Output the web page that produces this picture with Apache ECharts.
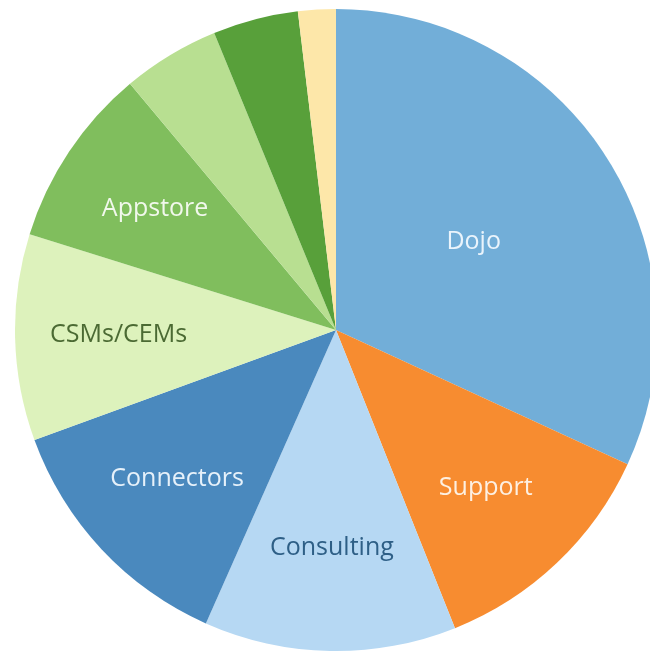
<!DOCTYPE html>
<html>
<head>
<meta charset="utf-8">
<script src="https://cdn.jsdelivr.net/npm/echarts@6/dist/echarts.min.js"></script>
<style>html,body{margin:0;padding:0;background:#fff;}#c{width:650px;height:655px;}</style>
</head>
<body>
<div id="c"></div>
<script>
var categories = ['Dojo', 'Support', 'Consulting', 'Connectors', 'CSMs/CEMs', 'Appstore', 'Other A', 'Other B', 'Other C'];
var values = [31.9, 12.1, 12.7, 12.8, 10.4, 9.1, 4.9, 4.3, 1.9];
var showLabel = [true, true, true, true, true, true, false, false, false];
var colors = ['#72aed8', '#f78c30', '#b6d8f3', '#4a89be', '#ddf2bc', '#80be5d', '#b8df91', '#58a03a', '#fde7a9'];
var labelColors = ['#eaf4fc', '#fdf0e2', '#2e5f86', '#e6f1fa', '#4b6a33', '#f1f8ec', '#fff', '#fff', '#fff'];

var chart = echarts.init(document.getElementById('c'));
var center = [336, 330];
var R = 321;

var mainData = categories.map(function (n, i) {
  return {
    name: n, value: values[i],
    itemStyle: { color: colors[i] },
    label: { show: i === 0, color: labelColors[i] }
  };
});
var labelData = categories.map(function (n, i) {
  return {
    name: n, value: values[i],
    itemStyle: { color: 'rgba(0,0,0,0)' },
    label: { show: showLabel[i] && i !== 0, color: labelColors[i] }
  };
});

chart.setOption({
  animation: false,
  series: [
    {
      type: 'pie', center: center, radius: [0, R], startAngle: 90, clockwise: true,
      data: mainData, silent: true,
      itemStyle: { borderWidth: 0 },
      label: { position: 'inside', formatter: '{b}', fontFamily: 'Open Sans', fontSize: 25 },
      labelLine: { show: false }
    },
    {
      type: 'pie', center: center, radius: [108, R], startAngle: 90, clockwise: true,
      data: labelData, silent: true,
      itemStyle: { borderWidth: 0 },
      label: { position: 'inside', formatter: '{b}', fontFamily: 'Open Sans', fontSize: 25 },
      labelLine: { show: false }
    }
  ]
});
</script>
</body>
</html>
